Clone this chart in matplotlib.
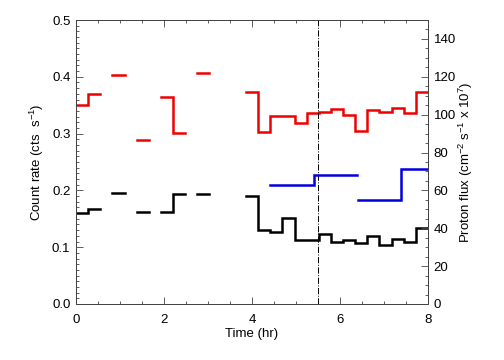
import numpy as np
import matplotlib
matplotlib.use("Agg")
import matplotlib.pyplot as plt
from matplotlib.ticker import MultipleLocator

plt.rcParams['font.family'] = ['Liberation Sans', 'DejaVu Sans']
plt.rcParams['mathtext.fontset'] = 'custom'
plt.rcParams['mathtext.rm'] = 'Liberation Sans'
plt.rcParams['mathtext.it'] = 'Liberation Sans'

# time bin edges (hr)
time_edges = [0.000, 0.276, 0.552, 0.828, 1.103, 1.379, 1.655, 1.931, 2.207, 2.483,
              2.759, 3.034, 3.310, 3.586, 3.862, 4.138, 4.414, 4.690, 4.966, 5.241,
              5.517, 5.793, 6.069, 6.345, 6.621, 6.897, 7.172, 7.448, 7.724, 8.000]
nan = np.nan
red_rate = [0.350, 0.370, nan, 0.403, nan, 0.289, nan, 0.364, 0.301, nan,
            0.407, nan, nan, nan, 0.373, 0.303, 0.331, 0.331, 0.319, 0.336,
            0.338, 0.343, 0.333, 0.305, 0.342, 0.338, 0.345, 0.336, 0.373]
black_rate = [0.160, 0.167, nan, 0.195, nan, 0.162, nan, 0.162, 0.194, nan,
              0.194, nan, nan, nan, 0.190, 0.130, 0.127, 0.152, 0.112, 0.112,
              0.124, 0.110, 0.112, 0.107, 0.119, 0.103, 0.114, 0.110, 0.133]
# proton flux (blue), two stretches
flux_edges_a = [4.42, 5.41, 6.38]
flux_vals_a = [62.9, 67.9]
flux_edges_b = [6.41, 7.39, 8.00]
flux_vals_b = [55.1, 71.3]
event_time = 5.5


def steps(edges, vals):
    e = np.asarray(edges, float)
    v = np.asarray(vals, float)
    return np.repeat(e, 2)[1:-1], np.repeat(v, 2)


fig = plt.figure(figsize=(5.04, 3.6), dpi=100)
ax = fig.add_axes([0.1508, 0.1556, 0.6984, 0.7888])
ax.set_xlim(0, 8)
ax.set_ylim(0, 0.5)

x, y = steps(time_edges, red_rate)
ax.plot(x, y, color='#ee0000', lw=1.8, solid_joinstyle='miter')
x, y = steps(time_edges, black_rate)
ax.plot(x, y, color='black', lw=1.8, solid_joinstyle='miter')
ax.axvline(event_time, color='black', lw=0.7, ls='-.')

ax.xaxis.set_major_locator(MultipleLocator(2))
ax.xaxis.set_minor_locator(MultipleLocator(0.5))
ax.yaxis.set_major_locator(MultipleLocator(0.1))
ax.yaxis.set_minor_locator(MultipleLocator(0.01))
ax.yaxis.set_major_formatter(matplotlib.ticker.FormatStrFormatter('%.1f'))
ax.tick_params(which='both', direction='in', top=True, right=False,
               labelsize=9.5, pad=4, width=0.6, color='#444444')
ax.tick_params(axis='x', which='both', pad=7)
ax.tick_params(which='major', length=5)
ax.tick_params(which='minor', length=2.5)
for s in ax.spines.values():
    s.set_linewidth(0.7)
    s.set_color('#444444')

ax.set_xlabel('Time (hr)', fontsize=9.5, labelpad=2)
ax.set_ylabel('Count rate (cts  s$^{-1}$)', fontsize=9.5, labelpad=4)

ax2 = ax.twinx()
ax2.set_ylim(0, 150)
x, y = steps(flux_edges_a, flux_vals_a)
ax2.plot(x, y, color='#0000dd', lw=1.8, solid_joinstyle='miter')
x, y = steps(flux_edges_b, flux_vals_b)
ax2.plot(x, y, color='#0000dd', lw=1.8, solid_joinstyle='miter')
ax2.yaxis.set_major_locator(MultipleLocator(20))
ax2.yaxis.set_minor_locator(MultipleLocator(5))
ax2.tick_params(which='both', direction='in', labelsize=9.5, pad=4,
                width=0.6, color='#444444')
ax2.tick_params(which='major', length=5)
ax2.tick_params(which='minor', length=2.5)
for s in ax2.spines.values():
    s.set_linewidth(0.7)
    s.set_color('#444444')
ax2.set_ylabel('Proton flux (cm$^{-2}$ s$^{-1}$ x 10$^{7}$)', fontsize=9.5, labelpad=0.5)

fig.savefig('out.png', dpi=100)
